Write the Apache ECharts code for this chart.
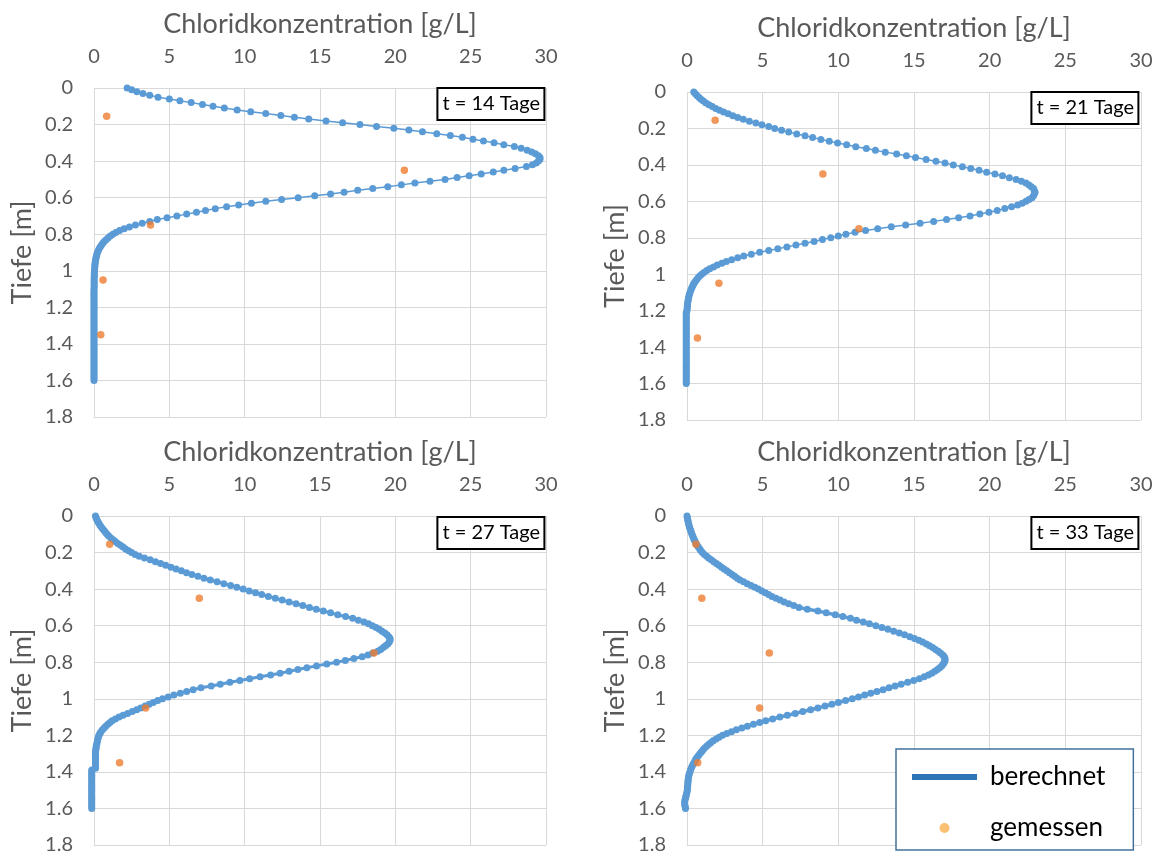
<!DOCTYPE html>
<html><head><meta charset="utf-8">
<script src="https://cdn.jsdelivr.net/npm/echarts@6/dist/echarts.min.js"></script>
<style>html,body{margin:0;padding:0;background:#fff}#c{width:1157px;height:855px}</style>
</head><body><div id="c"></div><script>
// depth grid of the computed profiles [m]
const DEPTH = [
0,0.01,0.02,0.03,0.04,0.05,0.06,0.07,0.08,0.09,
0.1,0.11,0.12,0.13,0.14,0.15,0.16,0.17,0.18,0.19,
0.2,0.21,0.22,0.23,0.24,0.25,0.26,0.27,0.28,0.29,
0.3,0.31,0.32,0.33,0.34,0.35,0.36,0.37,0.38,0.39,
0.4,0.41,0.42,0.43,0.44,0.45,0.46,0.47,0.48,0.49,
0.5,0.51,0.52,0.53,0.54,0.55,0.56,0.57,0.58,0.59,
0.6,0.61,0.62,0.63,0.64,0.65,0.66,0.67,0.68,0.69,
0.7,0.71,0.72,0.73,0.74,0.75,0.76,0.77,0.78,0.79,
0.8,0.81,0.82,0.83,0.84,0.85,0.86,0.87,0.88,0.89,
0.9,0.91,0.92,0.93,0.94,0.95,0.96,0.97,0.98,0.99,
1,1.01,1.02,1.03,1.04,1.05,1.06,1.07,1.08,1.09,
1.1,1.11,1.12,1.13,1.14,1.15,1.16,1.17,1.18,1.19,
1.2,1.21,1.22,1.23,1.24,1.25,1.26,1.27,1.28,1.29,
1.3,1.31,1.32,1.33,1.34,1.35,1.36,1.37,1.38,1.39,
1.4,1.41,1.42,1.43,1.44,1.45,1.46,1.47,1.48,1.49,
1.5,1.51,1.52,1.53,1.54,1.55,1.56,1.57,1.58,1.59,
1.6];

// computed chloride concentration [g/L] ("berechnet")
const CALC_14 = [
2.2,2.5,2.85,3.25,3.7,4.25,5.0,5.7,6.45,7.2,
7.9,8.65,9.5,10.4,11.4,12.4,13.3,14.25,15.4,16.5,
17.65,18.75,19.9,20.9,21.8,22.75,23.65,24.45,25.15,25.85,
26.55,27.2,27.9,28.35,28.75,29.05,29.3,29.5,29.6,29.6,
29.5,29.35,29.1,28.7,27.95,27.2,26.5,25.7,24.9,24.1,
23.3,22.3,21.3,20.4,19.5,18.5,17.5,16.6,15.7,14.65,
13.55,12.45,11.4,10.45,9.6,8.8,8.05,7.4,6.8,6.15,
5.5,4.85,4.2,3.7,3.2,2.75,2.35,2.0,1.7,1.45,
1.25,1.08,0.93,0.8,0.68,0.58,0.49,0.41,0.34,0.28,
0.23,0.19,0.16,0.13,0.11,0.09,0.07,0.06,0.05,0.04,
0.03,0.02,0.02,0.02,0.01,0.01,0.01,0.01,0.01,0.01,
0,0,0,0,0,0,0,0,0,0,
0,0,0,0,0,0,0,0,0,0,
0,0,0,0,0,0,0,0,0,0,
0,0,0,0,0,0,0,0,0,0,
0,0,0,0,0,0,0,0,0,0,
0];
const CALC_21 = [
0.45,0.55,0.67,0.8,0.92,1.08,1.25,1.45,1.67,1.9,
2.15,2.42,2.72,3.03,3.35,3.72,4.12,4.55,4.95,5.4,
5.8,6.25,6.72,7.25,7.8,8.3,8.85,9.4,9.95,10.55,
11.15,11.85,12.45,13.1,13.85,14.5,15.1,15.8,16.45,17.05,
17.6,18.2,18.75,19.3,19.8,20.35,20.85,21.3,21.75,22.1,
22.4,22.6,22.75,22.9,22.95,23.0,22.95,22.9,22.8,22.6,
22.4,22.15,21.85,21.45,21.0,20.5,19.95,19.35,18.7,17.95,
17.15,16.3,15.4,14.45,13.5,12.6,11.8,11.1,10.5,10.0,
9.5,8.95,8.4,7.8,7.2,6.6,6.0,5.4,4.8,4.25,
3.75,3.35,2.95,2.6,2.3,2.0,1.75,1.5,1.3,1.12,
0.97,0.84,0.73,0.63,0.54,0.46,0.4,0.34,0.29,0.24,
0.2,0.16,0.13,0.1,0.08,0.06,0.04,0.03,0.02,0.01,
0,-0.05,-0.05,-0.05,-0.05,-0.05,-0.05,-0.05,-0.05,-0.05,
-0.05,-0.05,-0.05,-0.05,-0.05,-0.05,-0.05,-0.05,-0.05,-0.05,
-0.05,-0.05,-0.05,-0.05,-0.05,-0.05,-0.05,-0.05,-0.05,-0.05,
-0.05,-0.05,-0.05,-0.05,-0.05,-0.05,-0.05,-0.05,-0.05,-0.05,
-0.05];
const CALC_27 = [
0.1,0.14,0.19,0.25,0.32,0.4,0.48,0.57,0.67,0.77,
0.87,0.98,1.12,1.27,1.41,1.58,1.76,1.93,2.1,2.3,
2.5,2.73,3.0,3.35,3.73,4.08,4.42,4.76,5.11,5.45,
5.8,6.14,6.5,6.9,7.3,7.72,8.17,8.62,9.07,9.48,
9.9,10.3,10.72,11.13,11.57,12.03,12.49,12.95,13.41,13.86,
14.3,14.75,15.22,15.7,16.18,16.7,17.17,17.55,17.92,18.22,
18.48,18.72,18.93,19.12,19.3,19.45,19.57,19.65,19.65,19.6,
19.5,19.35,19.2,19.03,18.83,18.5,18.18,17.8,17.25,16.68,
16.1,15.45,14.77,14.13,13.53,12.95,12.35,11.72,11.02,10.33,
9.68,9.02,8.38,7.78,7.1,6.58,6.15,5.73,5.3,4.92,
4.55,4.23,3.93,3.66,3.39,3.1,2.83,2.54,2.23,1.93,
1.66,1.42,1.2,1.06,0.92,0.78,0.67,0.56,0.46,0.39,
0.33,0.29,0.25,0.23,0.2,0.18,0.15,0.13,0.12,0.1,
0.1,0.1,0.1,0.1,0.1,0.1,0.1,0.1,0.1,-0.15,
-0.15,-0.15,-0.15,-0.15,-0.15,-0.15,-0.15,-0.15,-0.15,-0.15,
-0.15,-0.15,-0.15,-0.15,-0.15,-0.15,-0.15,-0.15,-0.15,-0.15,
-0.15];
const CALC_33 = [
0,0.02,0.05,0.07,0.1,0.13,0.16,0.2,0.24,0.29,
0.33,0.38,0.43,0.48,0.54,0.6,0.67,0.75,0.84,0.92,
1.02,1.15,1.3,1.43,1.6,1.77,1.94,2.11,2.28,2.45,
2.63,2.81,2.98,3.15,3.32,3.5,3.74,3.98,4.23,4.48,
4.72,4.95,5.17,5.39,5.61,5.88,6.15,6.42,6.72,7.05,
7.4,7.95,8.65,9.2,9.8,10.3,10.8,11.2,11.65,12.05,
12.48,12.88,13.28,13.66,14.03,14.38,14.73,15.03,15.32,15.57,
15.82,16.03,16.23,16.42,16.6,16.75,16.9,17.0,17.05,17.05,
17.0,16.93,16.83,16.7,16.55,16.38,16.18,15.95,15.67,15.35,
14.98,14.58,14.15,13.75,13.35,12.96,12.55,12.14,11.74,11.33,
10.92,10.48,10.0,9.57,9.12,8.65,8.17,7.65,7.15,6.63,
6.13,5.66,5.2,4.8,4.39,3.99,3.62,3.26,2.94,2.63,
2.35,2.12,1.92,1.73,1.57,1.42,1.29,1.15,1.05,0.96,
0.86,0.76,0.67,0.59,0.52,0.46,0.39,0.33,0.28,0.23,
0.19,0.15,0.12,0.1,0.08,0.07,0.06,0.05,0.04,0.03,
0.02,0,-0.03,-0.06,-0.09,-0.12,-0.15,-0.15,-0.15,-0.12,
-0.1];

// measured values ("gemessen")
const MEAS_DEPTH = [0.155, 0.45, 0.75, 1.05, 1.35];
const MEAS_14 = [0.84, 20.6, 3.75, 0.6, 0.45];
const MEAS_21 = [1.86, 8.98, 11.36, 2.11, 0.69];
const MEAS_27 = [1.04, 6.99, 18.58, 3.43, 1.7];
const MEAS_33 = [0.59, 0.98, 5.44, 4.8, 0.71];

const PANEL_LABELS = ['t = 14 Tage', 't = 21 Tage', 't = 27 Tage', 't = 33 Tage'];
const X_TICKS = [0, 5, 10, 15, 20, 25, 30];
const Y_TICKS = [0, 0.2, 0.4, 0.6, 0.8, 1, 1.2, 1.4, 1.6, 1.8];
const X_NAME = 'Chloridkonzentration [g/L]';
const Y_NAME = 'Tiefe [m]';
const SERIES_NAMES = ['berechnet', 'gemessen'];

const CALC = [CALC_14, CALC_21, CALC_27, CALC_33];
const MEAS = [MEAS_14, MEAS_21, MEAS_27, MEAS_33];

const FONT = 'Lato';
const GRAY = '#595959';
const BLUE = '#5B9BD5';
const ORANGE = '#ED7D31';

const GRIDS = [
  {left: 94, top: 88, width: 452, height: 329},
  {left: 687, top: 92, width: 454, height: 328},
  {left: 94, top: 516, width: 452, height: 329},
  {left: 687, top: 516, width: 454, height: 329}
];
const BOX_POS = [
  {right: 612, top: 88},
  {right: 18, top: 92},
  {right: 612, top: 517},
  {right: 18, top: 517}
];
const LINE_W = [1.5, 1.5, 3, 3.5];

const xAxis = [], yAxis = [], series = [], title = [];
GRIDS.forEach((g, i) => {
  xAxis.push({
    gridIndex: i, type: 'value', position: 'top',
    min: X_TICKS[0], max: X_TICKS[X_TICKS.length - 1], interval: X_TICKS[1] - X_TICKS[0],
    name: X_NAME, nameLocation: 'middle', nameGap: 50,
    nameTextStyle: {fontFamily: FONT, fontSize: 27, color: GRAY},
    axisLine: {show: false}, axisTick: {show: false},
    axisLabel: {margin: 21, fontFamily: FONT, fontSize: 20, color: GRAY},
    splitLine: {show: true, lineStyle: {color: '#D9D9D9', width: 1}}
  });
  yAxis.push({
    gridIndex: i, type: 'value', inverse: true,
    min: Y_TICKS[0], max: Y_TICKS[Y_TICKS.length - 1], interval: 0.2,
    name: Y_NAME, nameLocation: 'middle', nameGap: 58, nameRotate: 90,
    nameTextStyle: {fontFamily: FONT, fontSize: 27, color: GRAY},
    axisLine: {show: false}, axisTick: {show: false},
    axisLabel: {margin: 21, fontFamily: FONT, fontSize: 20, color: GRAY,
      formatter: v => { const t = Y_TICKS.find(y => Math.abs(y - v) < 1e-6); return t === undefined ? '' : String(t); }},
    splitLine: {show: true, lineStyle: {color: '#D9D9D9', width: 1}}
  });
  series.push({
    type: 'line', name: SERIES_NAMES[0], xAxisIndex: i, yAxisIndex: i,
    data: CALC[i].map((c, k) => [c, DEPTH[k]]),
    symbol: 'circle', symbolSize: 7, showSymbol: true, showAllSymbol: true,
    lineStyle: {width: LINE_W[i], color: BLUE}, itemStyle: {color: BLUE},
    clip: false, z: 2
  });
  series.push({
    type: 'scatter', name: SERIES_NAMES[1], xAxisIndex: i, yAxisIndex: i,
    data: MEAS[i].map((c, k) => [c, MEAS_DEPTH[k]]),
    symbol: 'circle', symbolSize: 7.5, itemStyle: {color: ORANGE}, z: 3
  });
  title.push(Object.assign({
    text: PANEL_LABELS[i],
    textStyle: {fontFamily: FONT, fontSize: 20, fontWeight: 'normal', color: '#000'},
    borderColor: '#000', borderWidth: 2, padding: [6, 5],
    backgroundColor: '#fff'
  }, BOX_POS[i]));
});

const chart = echarts.init(document.getElementById('c'), null, {renderer: 'canvas'});
chart.setOption({
  animation: false,
  backgroundColor: '#fff',
  textStyle: {fontFamily: FONT},
  title: title,
  grid: GRIDS,
  xAxis: xAxis,
  yAxis: yAxis,
  legend: {
    orient: 'vertical', left: 896, top: 749,
    itemWidth: 65, itemHeight: 10, itemGap: 25,
    padding: [15, 28, 9, 16],
    backgroundColor: '#fff', borderColor: '#41719C', borderWidth: 1.5, borderRadius: 0,
    textStyle: {fontFamily: FONT, fontSize: 26, color: '#000', padding: [0, 0, 0, 8]},
    selectedMode: false,
    data: [
      {name: SERIES_NAMES[0], icon: 'path://M0,0H65V6H0Z', itemStyle: {color: '#2E75B6'}},
      {name: SERIES_NAMES[1], icon: 'circle', itemStyle: {color: '#F9B24F'}}
    ]
  },
  series: series
});
</script></body></html>
